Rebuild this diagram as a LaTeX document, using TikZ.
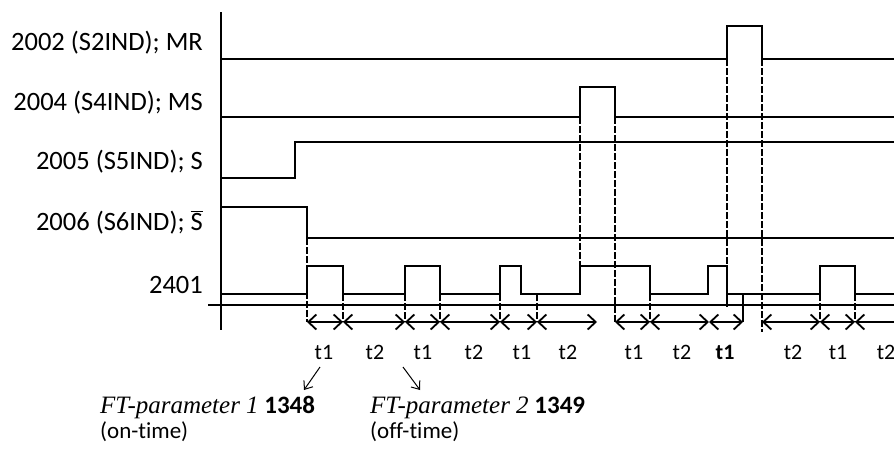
\documentclass[tikz,border=0pt]{standalone}
\usepackage{fontspec}
\setmainfont{Carlito}[Ligatures={NoCommon}]
\newfontfamily\serifit{Liberation Serif}
\usetikzlibrary{arrows.meta}
\begin{document}
\begin{tikzpicture}[x=1pt,y=-1pt,
  sig/.style={line width=1.9pt, line join=miter},
  axis/.style={line width=1.7pt},
  guide/.style={line width=1.5pt, dash pattern=on 7pt off 2pt},
  solidguide/.style={line width=1.5pt},
  barb/.tip={Straight Barb[length=8pt,width=15pt,line width=1.8pt]},
  meas/.style={line width=1.7pt, barb-barb},
  measl/.style={line width=1.7pt, barb-},
  ptr/.style={line width=1pt, -{Straight Barb[length=7pt,width=11pt,line width=1pt]}},
  lab/.style={font=\fontsize{26.5}{29}\selectfont, anchor=base east, inner sep=0pt},
  tl/.style={font=\fontsize{22}{25}\selectfont, inner sep=0pt},
  bt/.style={anchor=base west, inner sep=0pt, font=\fontsize{25}{28}\selectfont}]
\useasboundingbox (0,0) rectangle (894,450);

% axes
\draw[axis] (221,12) -- (221,330);
\draw[axis] (208,305) -- (894,305);

% signal labels
\node[lab] (l1) at (203,50) {2002 (S2IND); MR};
\node[lab] (l2) at (203,110) {2004 (S4IND); MS};
\node[lab] (l3) at (203,169) {2005 (S5IND); S};
\node[lab] (l4) at (203,230) {2006 (S6IND); $\overline{\mbox{S}}$};
\node[lab] (l5) at (203,293) {2401};

% guide lines
\foreach \x/\a/\b in {307/238/322, 343/294/322, 405/294/322, 440/294/322, 500/294/322,
  537/294/322, 580/117/266, 615/117/322, 650/294/322, 727/59/266, 762/59/332,
  820/294/322, 855/294/322}
  \draw[guide] (\x,\a) -- (\x,\b);
\draw[solidguide] (727,294) -- (727,307);
\draw[solidguide] (743,294) -- (743,322);

% signals
\draw[sig] (221,59) -- (727,59) -- (727,26) -- (762,26) -- (762,59) -- (894,59);
\draw[sig] (221,117) -- (580,117) -- (580,87) -- (615,87) -- (615,117) -- (894,117);
\draw[sig] (221,178) -- (295,178) -- (295,142) -- (894,142);
\draw[sig] (221,207) -- (307,207) -- (307,238) -- (894,238);
\draw[sig] (221,294) -- (307,294) -- (307,266) -- (343,266) -- (343,294)
  -- (405,294) -- (405,266) -- (440,266) -- (440,294)
  -- (500,294) -- (500,266) -- (521,266) -- (521,294)
  -- (580,294) -- (580,266) -- (650,266) -- (650,294)
  -- (708,294) -- (708,266) -- (727,266) -- (727,294)
  -- (820,294) -- (820,266) -- (855,266) -- (855,294) -- (894,294);

% measurement arrows
\foreach \i/\x in {0/307,1/343,2/405,3/440,4/500,5/537,6/597,7/615,8/650,9/709,10/743,11/762,12/820,13/855,14/904}
  \coordinate (m\i) at (\x,322);
\foreach \p/\q in {0/1,1/2,2/3,3/4,4/5,5/6,7/8,8/9,9/10,11/12,12/13}
  \draw[meas] (m\p) -- (m\q);
\draw[measl] (m13) -- (m14);

% time labels
\node[tl] (ta) at (324,352) {t1};
\node[tl] (tb) at (375,352) {t2};
\node[tl] (tc) at (423,352) {t1};
\node[tl] (td) at (474,352) {t2};
\node[tl] (te) at (522,352) {t1};
\node[tl] (tf) at (568,352) {t2};
\node[tl] (tg) at (634,352) {t1};
\node[tl] (th) at (682,352) {t2};
\node[tl,font=\fontsize{22}{25}\selectfont\bfseries] (ti) at (725,352) {t1};
\node[tl] (tj) at (793,352) {t2};
\node[tl] (tk) at (838,352) {t1};
\node[tl] (tm) at (886,352) {t2};

% parameter notes
\node[bt] (ft1) at (100,413) {{\serifit\itshape FT-parameter 1} \textbf{1348}};
\node[bt,font=\fontsize{23}{26}\selectfont] (on1) at (100,438) {(on-time)};
\node[bt] (ft2) at (370,413) {{\serifit\itshape FT-parameter 2} \textbf{1349}};
\node[bt,font=\fontsize{23}{26}\selectfont] (on2) at (370,438) {(off-time)};

\coordinate (a1s) at (320,367);
\coordinate (a1e) at (304,390);
\coordinate (a2s) at (403,367);
\coordinate (a2e) at (420,390);
\draw[ptr] (a1s) -- (a1e);
\draw[ptr] (a2s) -- (a2e);
\end{tikzpicture}
\end{document}
